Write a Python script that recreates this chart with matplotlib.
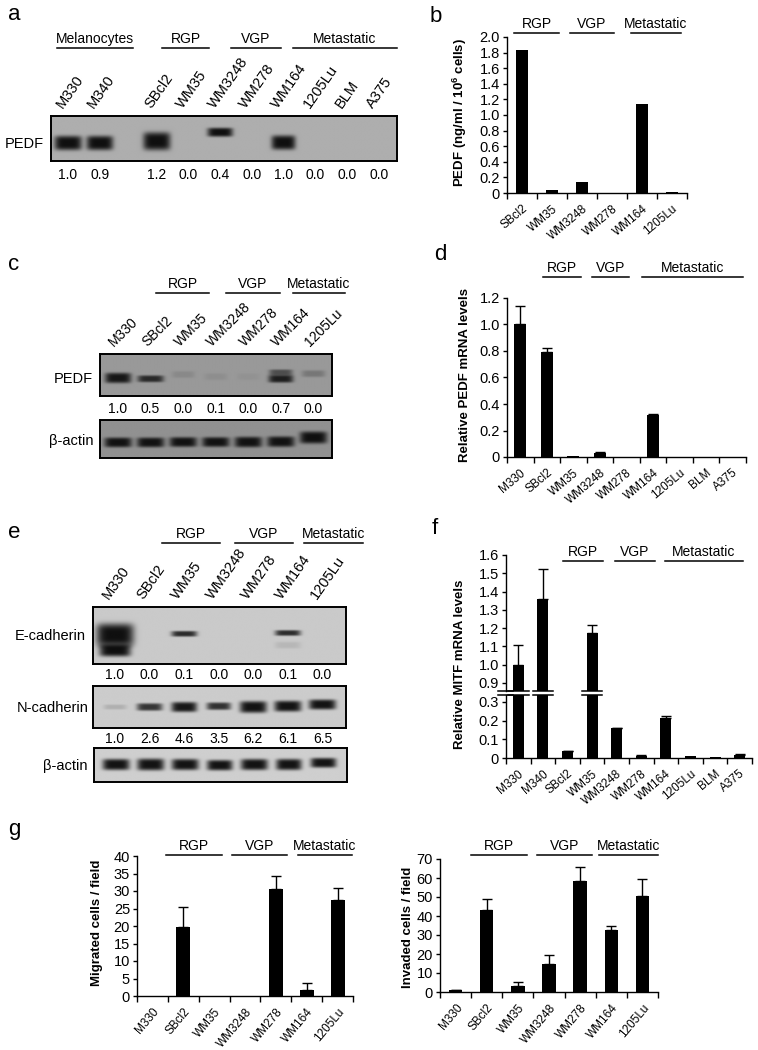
import numpy as np
import matplotlib
matplotlib.use('Agg')
import matplotlib.pyplot as plt
from matplotlib.lines import Line2D
import matplotlib.transforms as mtransforms

plt.rcParams['font.family'] = ['Liberation Sans', 'DejaVu Sans']
plt.rcParams['mathtext.fontset'] = 'custom'
plt.rcParams['mathtext.rm'] = 'Liberation Sans'
plt.rcParams['mathtext.bf'] = 'Liberation Sans:bold'

W, H = 758, 1050
nan = np.nan

# ---------------- data ----------------
# a: PEDF western blot, all lines
a_lanes = ['M330', 'M340', 'SBcl2', 'WM35', 'WM3248', 'WM278', 'WM164', '1205Lu', 'BLM', 'A375']
a_quant = ['1.0', '0.9', '1.2', '0.0', '0.4', '0.0', '1.0', '0.0', '0.0', '0.0']
a_band_lane = [0, 1, 2, 4, 6]
a_band_dark = [1.0, 1.0, 1.0, 1.0, 1.0]
a_band_y = [0.60, 0.60, 0.56, 0.36, 0.59]
a_band_h = [0.16, 0.16, 0.20, 0.10, 0.16]
a_band_w = [0.43, 0.42, 0.43, 0.40, 0.38]

# b: secreted PEDF (ELISA)
b_cells = ['SBcl2', 'WM35', 'WM3248', 'WM278', 'WM164', '1205Lu']
b_pedf = [1.83, 0.04, 0.14, 0.0, 1.14, 0.01]

# c: PEDF / beta-actin blot
c_lanes = ['M330', 'SBcl2', 'WM35', 'WM3248', 'WM278', 'WM164', '1205Lu']
c_quant = ['1.0', '0.5', '0.0', '0.1', '0.0', '0.7', '0.0']
c_pedf_lane = [0, 1, 2, 3, 4, 5, 5, 6]
c_pedf_dark = [0.95, 0.82, 0.12, 0.08, 0.05, 0.9, 0.55, 0.25]
c_pedf_y = [0.58, 0.60, 0.50, 0.55, 0.55, 0.60, 0.45, 0.48]
c_pedf_h = [0.12, 0.08, 0.08, 0.08, 0.08, 0.09, 0.07, 0.08]
c_pedf_w = [0.40, 0.40, 0.35, 0.35, 0.35, 0.38, 0.36, 0.36]
c_actin_lane = [0, 1, 2, 3, 4, 5, 6]
c_actin_dark = [0.98, 0.98, 0.98, 0.98, 0.98, 0.98, 1.0]
c_actin_y = [0.59, 0.59, 0.58, 0.58, 0.58, 0.57, 0.46]
c_actin_h = [0.13, 0.13, 0.13, 0.13, 0.14, 0.14, 0.16]
c_actin_w = [0.42, 0.42, 0.42, 0.42, 0.42, 0.42, 0.42]

# d: PEDF mRNA
d_cells = ['M330', 'SBcl2', 'WM35', 'WM3248', 'WM278', 'WM164', '1205Lu', 'BLM', 'A375']
d_mrna = [1.0, 0.79, 0.006, 0.03, 0.002, 0.315, 0.003, 0.002, 0.003]
d_err = [0.14, 0.03, nan, 0.005, nan, 0.008, nan, nan, nan]

# e: E-cadherin / N-cadherin / beta-actin blot
e_lanes = ['M330', 'SBcl2', 'WM35', 'WM3248', 'WM278', 'WM164', '1205Lu']
e_ecad_quant = ['1.0', '0.0', '0.1', '0.0', '0.0', '0.1', '0.0']
e_ncad_quant = ['1.0', '2.6', '4.6', '3.5', '6.2', '6.1', '6.5']
e_ecad_lane = [0, 0, 2, 5, 5]
e_ecad_dark = [1.0, 1.0, 0.85, 0.85, 0.10]
e_ecad_y = [0.49, 0.76, 0.47, 0.455, 0.67]
e_ecad_h = [0.20, 0.11, 0.05, 0.05, 0.06]
e_ecad_w = [0.54, 0.45, 0.37, 0.37, 0.37]
e_ncad_lane = [0, 1, 2, 3, 4, 5, 6]
e_ncad_dark = [0.15, 0.8, 0.96, 0.82, 0.98, 0.98, 0.98]
e_ncad_y = [0.50, 0.50, 0.50, 0.48, 0.50, 0.48, 0.44]
e_ncad_h = [0.06, 0.09, 0.12, 0.09, 0.14, 0.13, 0.12]
e_ncad_w = [0.33, 0.37, 0.37, 0.35, 0.39, 0.39, 0.39]
e_actin_lane = [0, 1, 2, 3, 4, 5, 6]
e_actin_dark = [0.98, 0.98, 0.98, 0.98, 0.98, 0.98, 0.98]
e_actin_y = [0.50, 0.50, 0.50, 0.52, 0.50, 0.50, 0.45]
e_actin_h = [0.16, 0.17, 0.16, 0.15, 0.16, 0.16, 0.14]
e_actin_w = [0.39, 0.39, 0.39, 0.37, 0.39, 0.37, 0.37]

# f: MITF mRNA
f_cells = ['M330', 'M340', 'SBcl2', 'WM35', 'WM3248', 'WM278', 'WM164', '1205Lu', 'BLM', 'A375']
f_mitf = [1.0, 1.36, 0.035, 1.175, 0.16, 0.012, 0.215, 0.009, 0.004, 0.018]
f_err = [0.11, 0.165, 0.003, 0.04, 0.003, 0.002, 0.012, nan, nan, 0.002]

# g: migration / invasion
g_cells = ['M330', 'SBcl2', 'WM35', 'WM3248', 'WM278', 'WM164', '1205Lu']
g_migr = [0, 19.8, 0, 0, 30.5, 1.7, 27.5]
g_migr_err = [nan, 5.7, nan, nan, 3.8, 2.0, 3.5]
g_inv = [0.8, 43.2, 3.0, 15.0, 58.5, 32.5, 50.5]
g_inv_err = [0.3, 5.5, 2.2, 4.3, 7.2, 2.2, 9.0]

# ---------------- helpers ----------------
fig = plt.figure(figsize=(W / 100, H / 100), dpi=100)


def fx(x):
    return x / W


def fy(y):
    return 1 - y / H


def px_axes(x0, y0, x1, y1):
    return fig.add_axes([fx(x0), fy(y1), (x1 - x0) / W, (y1 - y0) / H])


def header(groups, y_line):
    for label, x0, x1 in groups:
        fig.add_artist(Line2D([fx(x0), fx(x1)], [fy(y_line)] * 2, color='black', lw=1.1))
        fig.text(fx((x0 + x1) / 2), fy(y_line - 5), label, ha='center', va='baseline', fontsize=10)


def letter(s, x, y):
    fig.text(fx(x), fy(y), s, ha='left', va='center', fontsize=16)


def draw_blot(ax, pos, xlim, bg, lane, dark, yc, hh, hw):
    xs = np.linspace(xlim[0], xlim[1], 700)
    ys = np.linspace(0, 1, 160)
    X, Y = np.meshgrid(xs, ys)
    img = np.full(X.shape, bg)
    for i, d, y, h, w in zip(lane, dark, yc, hh, hw):
        prof = np.exp(-np.abs((X - pos[i]) / w) ** 5 - np.abs((Y - y) / h) ** 4)
        img = img * (1 - d * prof * (1 - 0.06 / bg))
    ax.imshow(img, cmap='gray', vmin=0, vmax=1, extent=(xlim[0], xlim[1], 1, 0),
              aspect='auto', interpolation='bilinear')
    ax.set_xlim(xlim)
    ax.set_ylim(1, 0)
    ax.set_xticks([])
    ax.set_yticks([])
    for s in ax.spines.values():
        s.set_linewidth(1.4)


def side_label(text, x_right, y):
    fig.text(fx(x_right), fy(y), text, ha='right', va='center', fontsize=10.5)


def lane_labels(ax, pos, labels, y_px, rot, dx=-0.1, size=10.5):
    tr = mtransforms.blended_transform_factory(ax.transData, fig.transFigure)
    for p, lab in zip(pos, labels):
        ax.text(p + dx, fy(y_px), lab, transform=tr, rotation=rot, rotation_mode='anchor',
                ha='left', va='bottom', fontsize=size)


def lane_numbers(ax, pos, vals, y_px):
    tr = mtransforms.blended_transform_factory(ax.transData, fig.transFigure)
    for p, v in zip(pos, vals):
        ax.text(p, fy(y_px), v, transform=tr, ha='center', va='center', fontsize=10)


def bar_axes(box, cats, vals, errs, ylim, yticks, ytl, width, rot, show_x=True):
    ax = px_axes(*box)
    x = np.arange(len(cats))
    ax.bar(x, vals, width=width, color='black', zorder=2)
    if errs is not None:
        errs = np.asarray(errs, dtype=float)
        ok = np.isfinite(errs)
        ax.errorbar(x[ok], np.asarray(vals)[ok], yerr=[np.zeros(ok.sum()), errs[ok]], fmt='none',
                    ecolor='black', elinewidth=1, capsize=3.5, capthick=1, zorder=3)
    ax.set_xlim(-0.5, len(cats) - 0.5)
    ax.set_ylim(*ylim)
    ax.set_yticks(yticks)
    ax.set_yticklabels(ytl, fontsize=10.5)
    ax.spines[['top', 'right']].set_visible(False)
    ax.spines['left'].set_linewidth(1)
    ax.spines['bottom'].set_linewidth(1)
    ax.tick_params(axis='y', direction='out', length=3, width=1, pad=2)
    if show_x:
        ax.set_xticks(x)
        ax.set_xticklabels(cats, rotation=rot, ha='right', va='top', rotation_mode='anchor', fontsize=8.5)
        ax.tick_params(axis='x', which='major', length=0, pad=7)
        ax.set_xticks(np.arange(len(cats) + 1) - 0.5, minor=True)
        ax.tick_params(axis='x', which='minor', direction='out', length=4, width=1)
    else:
        ax.set_xticks([])
        ax.spines['bottom'].set_visible(False)
    return ax


def fmt(v):
    return '0' if v == 0 else f'{v:.1f}'


def ylabel(text, x, y):
    fig.text(fx(x), fy(y), text, rotation=90, ha='center', va='center', fontsize=9.5, fontweight='bold')


# ---------------- a ----------------
letter('a', 8, 15)
header([('Melanocytes', 57, 133), ('RGP', 162, 209), ('VGP', 231, 281), ('Metastatic', 293, 397)], 48)
idx = np.arange(len(a_lanes))
a_pos = idx + np.where(idx >= 2, 0.8, 0.0)
ax_a = px_axes(51, 116, 397, 161)
a_xlim = ((51 - 68) / 31.7, (397 - 68) / 31.7)
draw_blot(ax_a, a_pos, a_xlim, 0.68, a_band_lane, a_band_dark, a_band_y, a_band_h, a_band_w)
lane_labels(ax_a, a_pos, a_lanes, 111, 55)
lane_numbers(ax_a, a_pos, a_quant, 175)
side_label('PEDF', 44, 144)

# ---------------- b ----------------
letter('b', 430, 17)
header([('RGP', 514, 559), ('VGP', 570, 614), ('Metastatic', 631, 681)], 33)
bt = np.arange(0, 2.01, 0.2)
bar_axes((507, 37, 687, 193), b_cells, b_pedf, None, (0, 2.0), bt, [fmt(v) for v in bt], 0.42, 40)
ylabel(r'PEDF (ng/ml / 10$^{\mathbf{6}}$ cells)', 460, 112)

# ---------------- c ----------------
letter('c', 8, 265)
header([('RGP', 156, 209), ('VGP', 226, 280), ('Metastatic', 293, 345)], 293)
c_pos = np.arange(len(c_lanes))
c_xlim = ((100 - 118) / 32.6, (332 - 118) / 32.6)
ax_c1 = px_axes(100, 354, 332, 396)
draw_blot(ax_c1, c_pos, c_xlim, 0.60, c_pedf_lane, c_pedf_dark, c_pedf_y, c_pedf_h, c_pedf_w)
ax_c2 = px_axes(100, 420, 332, 458)
draw_blot(ax_c2, c_pos, c_xlim, 0.57, c_actin_lane, c_actin_dark, c_actin_y, c_actin_h, c_actin_w)
lane_labels(ax_c1, c_pos, c_lanes, 349, 45, dx=-0.05, size=10)
lane_numbers(ax_c1, c_pos, c_quant, 409)
side_label('PEDF', 93, 379)
side_label('β-actin', 93, 441)

# ---------------- d ----------------
letter('d', 434, 255)
header([('RGP', 543, 581), ('VGP', 592, 629), ('Metastatic', 642, 743)], 277)
dt = np.arange(0, 1.21, 0.2)
bar_axes((507, 298, 746, 457), d_cells, d_mrna, d_err, (0, 1.2), dt, [fmt(v) for v in dt], 0.46, 40)
ylabel('Relative PEDF mRNA levels', 465, 375)

# ---------------- e ----------------
letter('e', 8, 532)
header([('RGP', 162, 220), ('VGP', 235, 293), ('Metastatic', 304, 363)], 543)
e_pos = np.arange(len(e_lanes))
e_xlim = ((93 - 115) / 34.6, (346 - 115) / 34.6)
ax_e1 = px_axes(93, 607, 346, 664)
draw_blot(ax_e1, e_pos, e_xlim, 0.79, e_ecad_lane, e_ecad_dark, e_ecad_y, e_ecad_h, e_ecad_w)
ax_e2 = px_axes(93, 686, 346, 728)
draw_blot(ax_e2, e_pos, e_xlim, 0.80, e_ncad_lane, e_ncad_dark, e_ncad_y, e_ncad_h, e_ncad_w)
ax_e3 = px_axes(94, 748, 347, 782)
draw_blot(ax_e3, e_pos, e_xlim, 0.81, e_actin_lane, e_actin_dark, e_actin_y, e_actin_h, e_actin_w)
lane_labels(ax_e1, e_pos, e_lanes, 602, 55, dx=-0.1)
lane_numbers(ax_e1, e_pos, e_ecad_quant, 675)
lane_numbers(ax_e2, e_pos, e_ncad_quant, 739)
side_label('E-cadherin', 86, 636)
side_label('N-cadherin', 89, 708)
side_label('β-actin', 88, 766)

# ---------------- f (broken axis) ----------------
letter('f', 432, 528)
header([('RGP', 563, 603), ('VGP', 615, 655), ('Metastatic', 665, 743)], 561)
ft = np.arange(0.9, 1.61, 0.1)
ax_f1 = bar_axes((506, 555, 752, 691), f_cells, f_mitf, f_err, (0.856, 1.6), ft,
                 [f'{v:.1f}' for v in ft], 0.45, 40, show_x=False)
fb = np.arange(0, 0.31, 0.1)
ax_f2 = bar_axes((506, 695, 752, 758), f_cells, f_mitf, f_err, (0, 0.337), fb,
                 [fmt(v) for v in fb], 0.45, 40)
for ax, yy in ((ax_f1, 0.0), (ax_f2, 1.0)):
    tr = mtransforms.blended_transform_factory(ax.transData, ax.transAxes)
    ax.plot([-0.83, -0.2], [yy, yy], color='black', lw=1.1, transform=tr, clip_on=False)
    for i, v in enumerate(f_mitf):
        if v > 0.337:
            ax.plot([i - 0.42, i + 0.42], [yy, yy], color='black', lw=1.1, transform=tr, clip_on=False)
ylabel('Relative MITF mRNA levels', 460, 664)

# ---------------- g ----------------
letter('g', 8, 830)
header([('RGP', 166, 222), ('VGP', 232, 287), ('Metastatic', 298, 352)], 855)
gt = np.arange(0, 41, 5)
bar_axes((137, 856, 353, 996), g_cells, g_migr, g_migr_err, (0, 40), gt, [str(v) for v in gt], 0.45, 50)
ylabel('Migrated cells / field', 97, 923)

header([('RGP', 471, 527), ('VGP', 537, 592), ('Metastatic', 599, 658)], 855)
gt2 = np.arange(0, 71, 10)
bar_axes((440, 859, 658, 992), g_cells, g_inv, g_inv_err, (0, 70), gt2, [str(v) for v in gt2], 0.43, 50)
ylabel('Invaded cells / field', 408, 927)

fig.savefig('out.png', dpi=100)
